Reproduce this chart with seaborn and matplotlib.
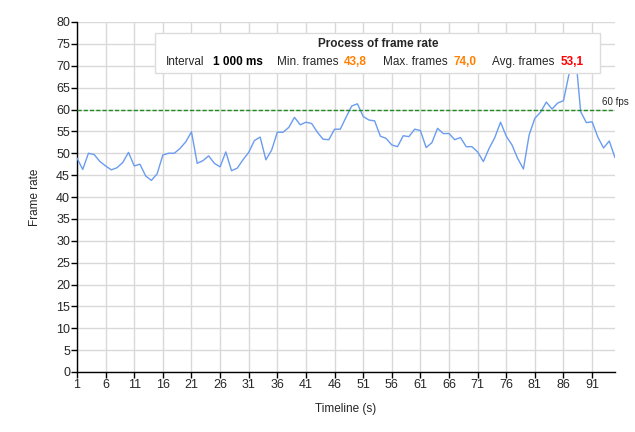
import matplotlib
matplotlib.use("Agg")
import matplotlib.pyplot as plt
from matplotlib.patches import Rectangle
import seaborn as sns
import pandas as pd

# ---- data ----
timeline = list(range(1, 96))
fps = [48.9, 46.3, 50.0, 49.7, 48.1, 47.1, 46.2, 46.7, 47.9, 50.2,
       47.1, 47.5, 44.8, 43.8, 45.3, 49.6, 50.0, 50.0, 51.1, 52.6,
       54.9, 47.7, 48.3, 49.4, 47.7, 46.9, 50.3, 46.0, 46.6, 48.5,
       50.2, 52.9, 53.7, 48.5, 50.7, 54.8, 54.8, 55.9, 58.2, 56.5,
       57.1, 56.8, 54.8, 53.2, 53.1, 55.5, 55.5, 58.2, 60.8, 61.3,
       58.4, 57.6, 57.4, 53.9, 53.4, 51.9, 51.5, 54.0, 53.8, 55.5,
       55.2, 51.3, 52.4, 55.7, 54.5, 54.5, 53.1, 53.6, 51.5, 51.5,
       50.3, 48.1, 51.1, 53.6, 57.1, 53.9, 51.9, 48.8, 46.4, 54.2,
       58.0, 59.4, 61.7, 60.1, 61.5, 62.0, 68.3, 74.0, 59.5, 57.0,
       57.2, 53.7, 51.2, 52.8, 49.0]
target_fps = 60
x_ticks = list(range(1, 92, 5))
y_ticks = list(range(0, 81, 5))
title = "Process of frame rate"
stat_labels = ["Interval", "Min. frames", "Max. frames", "Avg. frames"]
stat_values = ["1 000 ms", "43,8", "74,0", "53,1"]
stat_colors = ["black", "#ff8000", "#ff8000", "#ff0000"]

df = pd.DataFrame({"Timeline (s)": timeline, "Frame rate": fps})

sns.set_style("white")
plt.rcParams["font.family"] = ["Liberation Sans", "DejaVu Sans"]

W, H = 635, 432
fig = plt.figure(figsize=(W / 100, H / 100), dpi=100)
L, R, T, B = 77, 615, 22, 372
ax = fig.add_axes([L / W, 1 - B / H, (R - L) / W, (B - T) / H])

sns.lineplot(data=df, x="Timeline (s)", y="Frame rate", ax=ax,
             color="#6a9cf0", linewidth=1.0, zorder=3)
ax.axhline(target_fps, color="#1f8a1f", linestyle=(0, (3, 1.5)), linewidth=1.0, zorder=4)
ax.text((602 - L) / (R - L), target_fps + 0.6, "60 fps", transform=ax.get_yaxis_transform(),
        fontsize=7, va="bottom", ha="left", clip_on=False)

ax.set_xlim(1, 95)
ax.set_ylim(0, 80)
ax.set_xticks(x_ticks)
ax.set_yticks(y_ticks)
ax.grid(True, color="#d9d9d9", linewidth=1.0)
ax.set_axisbelow(True)
for s in ["top", "right"]:
    ax.spines[s].set_visible(False)
for s in ["left", "bottom"]:
    ax.spines[s].set_color("black")
    ax.spines[s].set_linewidth(1.0)
ax.tick_params(axis="both", which="major", length=4, width=1, color="black",
               labelsize=9, direction="out", left=True, bottom=True, pad=1)
ax.set_xlabel("")
ax.set_ylabel("")
fig.text(35 / W, 1 - 197 / H, "Frame rate", rotation=90, ha="center", va="center", fontsize=8.5)
fig.text(346 / W, 1 - 409 / H, "Timeline (s)", ha="center", va="center", fontsize=8.5)

# legend / title box
box = Rectangle((155 / W, 1 - 73 / H), (600 - 155) / W, 40 / H, transform=fig.transFigure,
                facecolor="white", edgecolor="#dcdcdc", linewidth=1.0, zorder=10, clip_on=False)
ax.add_patch(box)
ax.text(378 / W, 1 - 44 / H, title, transform=fig.transFigure, ha="center", va="center",
        fontsize=8.5, fontweight="bold", zorder=11)
label_x = [166, 277, 383, 492]
value_x = [213, 344, 453, 561]
for lab, lx, val, vx, col in zip(stat_labels, label_x, stat_values, value_x, stat_colors):
    ax.text(lx / W, 1 - 62 / H, lab, transform=fig.transFigure, ha="left", va="center",
            fontsize=8.5, zorder=11)
    ax.text(vx / W, 1 - 62 / H, val, transform=fig.transFigure, ha="left", va="center",
            fontsize=8.5, fontweight="bold", color=col, zorder=11)

fig.savefig("out.png", dpi=100, facecolor="white")
